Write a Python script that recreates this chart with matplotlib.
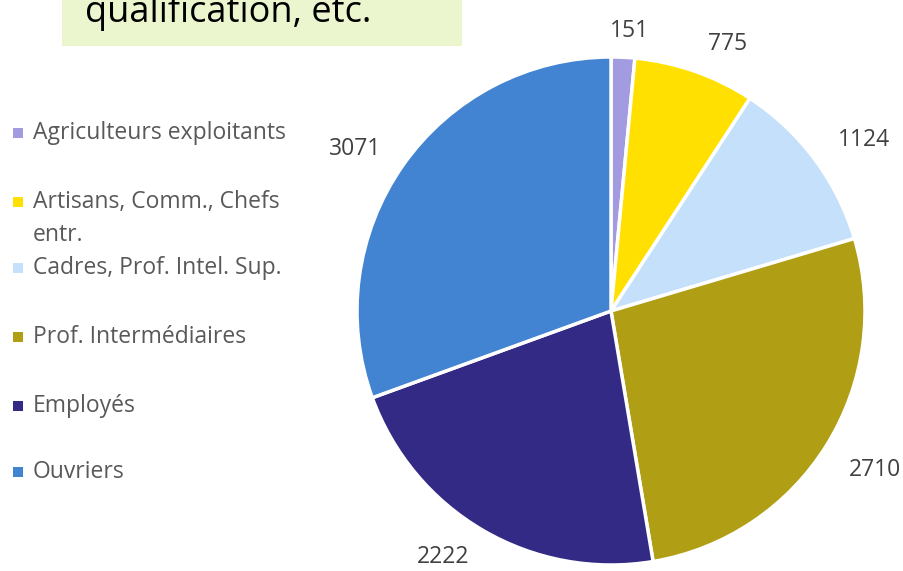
import numpy as np
import matplotlib.pyplot as plt
from matplotlib.patches import Rectangle

plt.rcParams['font.family'] = ['Open Sans', 'DejaVu Sans']

categories = ['Agriculteurs exploitants', 'Artisans, Comm., Chefs\nentr.',
              'Cadres, Prof. Intel. Sup.', 'Prof. Intermédiaires',
              'Employés', 'Ouvriers']
values = [151, 775, 1124, 2710, 2222, 3071]
colors = ['#A29BE0', '#FFE000', '#C5E0FA', '#B09E14', '#332A85', '#4384D2']

W, H = 904, 571
fig = plt.figure(figsize=(W / 100, H / 100), dpi=100)

# pie axes: centre (611, 311) px, radius 254 px
cx, cy, r = 611, 311, 254
ax = fig.add_axes([(cx - r) / W, (H - cy - r) / H, 2 * r / W, 2 * r / H])
wedges, texts = ax.pie(values, labels=[str(v) for v in values], colors=colors,
                       startangle=90, counterclock=False, labeldistance=1.19,
                       wedgeprops=dict(edgecolor='white', linewidth=2.5),
                       textprops=dict(fontsize=16.5, color='#404040'))
# per-label distance from centre (Excel "best fit" placement)
label_dist = [1.12, 1.16, 1.21, 1.205, 1.16, 1.2]
label_shift = [1, 4, 2, -1.5, 4.5, -2]  # degrees, clockwise
for w, t, d, s in zip(wedges, texts, label_dist, label_shift):
    ang = np.deg2rad((w.theta1 + w.theta2) / 2 - s)
    t.set_position((d * np.cos(ang), d * np.sin(ang) - 0.016))
    t.set_ha('center')
    t.set_va('center')
ax.set_xlim(-1, 1)
ax.set_ylim(-1, 1)
ax.set_aspect('auto')
ax.axis('off')

# title box (cut at the top)
fig.patches.append(Rectangle((62 / W, (H - 46) / H), 400 / W, 60 / H,
                             transform=fig.transFigure, facecolor='#EBF6CF',
                             edgecolor='none', zorder=0))
fig.text(85 / W, (H - 22) / H, 'qualification, etc.', fontsize=26,
         color='black', va='baseline', ha='left')

# legend
legend_y = [133, 202, 268, 337, 406, 472]
for name, col, y in zip(categories, colors, legend_y):
    fig.patches.append(Rectangle((13 / W, (H - y - 5) / H), 10 / W, 10 / H,
                                 transform=fig.transFigure, facecolor=col,
                                 edgecolor='none'))
    for i, line in enumerate(name.split('\n')):
        fig.text(33 / W, (H - y - 33 * i) / H, line, fontsize=16.5,
                 color='#595959', va='center', ha='left')

fig.savefig('out.png', dpi=100)
